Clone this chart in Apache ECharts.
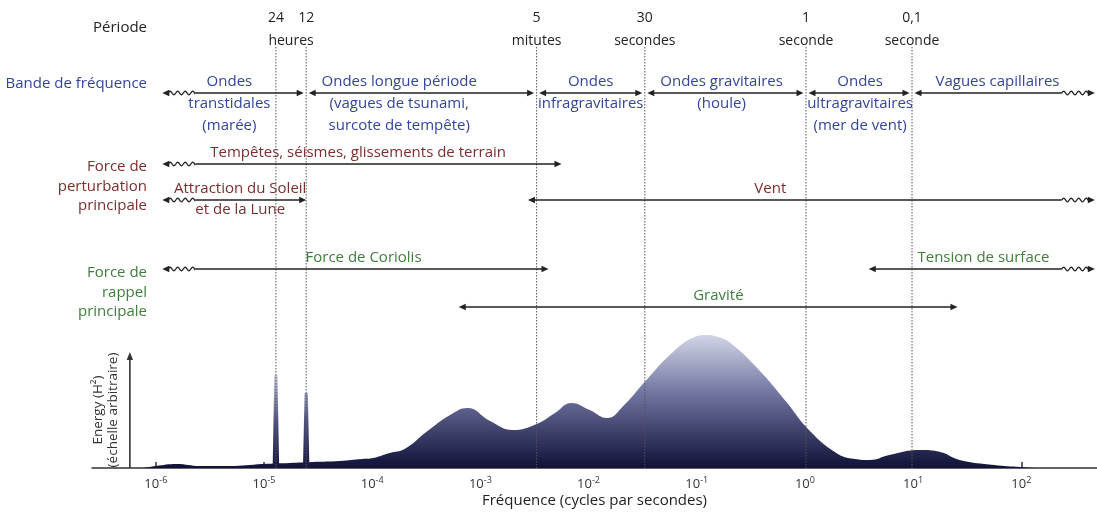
<!DOCTYPE html>
<html><head><meta charset="utf-8">
<script src="https://cdn.jsdelivr.net/npm/echarts@6/dist/echarts.min.js"></script>
<style>html,body{margin:0;padding:0;background:#fff}#c{width:1097px;height:514px}</style>
</head><body><div id="c"></div>
<script>
// ===== DATA (frequency given as log10 of cycles per second) =====
const decadeTicks = [-6, -5, -4, -3, -2, -1, 0, 1, 2];

// period boundaries : 24 h, 12 h, 5 min, 30 s, 1 s, 0.1 s
const periodBoundaries = [-4.89, -4.61, -2.48, -1.48, 0.01, 0.99];
const periodNumbers = ['24', '12', '5', '30', '1', '0,1'];
const periodUnits = ['heures', 'mitutes', 'secondes', 'seconde', 'seconde'];
const periodUnitAt = [-4.75, -2.48, -1.48, 0.01, 0.99];

// energy spectrum (arbitrary units)
const spectrumFreq = [-6.59, -6.15, -6.00, -5.81, -5.59, -5.32, -5.01, -4.76, -4.55, -4.30, -4.09, -3.99, -3.84, -3.70, -3.50, -3.28, -3.12, -2.91, -2.70, -2.48, -2.31, -2.16, -1.99, -1.83, -1.67, -1.49, -1.22, -1.02, -0.91, -0.80, -0.70, -0.45, -0.17, 0.02, 0.29, 0.46, 0.60, 0.78, 1.06, 1.25, 1.43, 1.75, 1.99, 2.17, 2.70];
const spectrumEnergy = [0, 0, 2, 4, 2, 2, 4, 5, 6, 7, 9, 10, 15, 19, 36, 53, 60, 47, 38, 44, 55, 65, 58, 50, 63, 85, 116, 131, 133, 131, 126, 101, 66, 40, 15, 9, 8, 13, 18, 16, 8, 3, 1, 0, 0];

// diurnal and semi-diurnal tide lines
const tideSpikeFreq = [-4.92, -4.905, -4.875, -4.86, -4.64, -4.625, -4.595, -4.58];
const tideSpikeEnergy = [0, 93, 93, 0, 0, 75, 75, 0];

// frequency bands (null = open ended)
const bandNames = [['Ondes', 'transtidales', '(marée)'], ['Ondes longue période', '(vagues de tsunami,', 'surcote de tempête)'], ['Ondes', 'infragravitaires'], ['Ondes gravitaires', '(houle)'], ['Ondes', 'ultragravitaires', '(mer de vent)'], ['Vagues capillaires']];
const bandFrom = [null, -4.61, -2.48, -1.48, 0.01, 0.99];
const bandTo = [-4.61, -2.48, -1.48, 0.01, 0.99, null];

// main disturbing forces
const disturbNames = [['Tempêtes, séismes, glissements de terrain'], ['Attraction du Soleil', 'et de la Lune'], ['Vent']];
const disturbFrom = [null, null, -2.56];
const disturbTo = [-2.25, -4.61, null];

// main restoring forces
const restoreNames = [['Force de Coriolis'], ['Tension de surface'], ['Gravité']];
const restoreFrom = [null, 0.59, -3.20];
const restoreTo = [-2.37, null, 1.41];

// ===== LAYOUT (positions / styles) =====
const FONT = '"Open Sans", "Noto Sans", sans-serif';
const L = {
  xMin: -6.59, xMax: 2.70, gridLeft: 92,
  openLeft: -5.94, openRight: 2.68,
  energyAxisAt: -6.24, energyAxisTop: 116, energyMax: 140,
  dottedTop: 47, dottedBottom: 468,
  periodNumY: 18, periodUnitY: 41,
  bandRows: [93, 93, 93, 93, 93, 93],
  disturbRows: [164, 200, 200],
  restoreRows: [269, 269, 307],
  bandLabelAt: [-5.32, -3.75, -1.98, -0.77, 0.51, 1.78],
  disturbLabelAt: [-4.13, -5.22, -0.32],
  restoreLabelAt: [-4.08, 1.65, -0.80],
  lineStep: 22, textLift: 11, gapBand: 2.5
};
const C = { band: '#33459b', disturb: '#7a2e2e', restore: '#3f7d3b', ink: '#222' };

// ---- build annotation lists ----
const arrows = [];
const texts = [];
function addGroup(names, from, to, rows, labelAt, color, gap, step) {
  names.forEach((lines, i) => {
    arrows.push({ from: from[i], to: to[i], row: rows[i], gap: gap });
    lines.forEach((t, k) => texts.push({ x: labelAt[i], y: rows[i] - L.textLift + k * step, text: t, color: color, size: 15 }));
  });
}
addGroup(bandNames, bandFrom, bandTo, L.bandRows, L.bandLabelAt, C.band, L.gapBand, L.lineStep);
addGroup(disturbNames, disturbFrom, disturbTo, L.disturbRows, L.disturbLabelAt, C.disturb, 0, 21);
addGroup(restoreNames, restoreFrom, restoreTo, L.restoreRows, L.restoreLabelAt, C.restore, 0, 21);
periodBoundaries.forEach((b, i) => texts.push({ x: b, y: L.periodNumY, text: periodNumbers[i], color: C.ink, size: 14 }));
periodUnits.forEach((u, i) => texts.push({ x: periodUnitAt[i], y: L.periodUnitY, text: u, color: C.ink, size: 14 }));

function wavy(x0, x1, y, amp, period) {
  const pts = [];
  for (let x = x0; x <= x1 + 0.01; x += 0.5) pts.push([x, y - amp * Math.sin((x - x0) / period * 2 * Math.PI)]);
  return pts;
}
function renderArrow(params, api) {
  const a = arrows[params.dataIndex];
  const y = api.coord([0, a.row])[1];
  const xl = api.coord([a.from == null ? L.openLeft : a.from, a.row])[0] + (a.from == null ? 0 : a.gap);
  const xr = api.coord([a.to == null ? L.openRight : a.to, a.row])[0] - (a.to == null ? 0 : a.gap);
  const H = 7, HW = 3.2, W = 33, col = '#222';
  const ch = [];
  let s = xl + H - 1, e = xr - H + 1;
  if (a.from == null) {
    ch.push({ type: 'polyline', shape: { points: wavy(xl + H - 1, xl + W, y, 1.8, 7.5) }, style: { stroke: col, lineWidth: 1.3, fill: null } });
    s = xl + W;
  }
  if (a.to == null) {
    ch.push({ type: 'polyline', shape: { points: wavy(xr - W, xr - H + 1, y, 1.8, 7.5) }, style: { stroke: col, lineWidth: 1.3, fill: null } });
    e = xr - W;
  }
  ch.push({ type: 'line', shape: { x1: s, y1: y, x2: e, y2: y }, style: { stroke: col, lineWidth: 1.7 } });
  ch.push({ type: 'polygon', shape: { points: [[xl, y], [xl + H, y - HW], [xl + H, y + HW]] }, style: { fill: col } });
  ch.push({ type: 'polygon', shape: { points: [[xr, y], [xr - H, y - HW], [xr - H, y + HW]] }, style: { fill: col } });
  return { type: 'group', children: ch };
}
function renderText(params, api) {
  const t = texts[params.dataIndex];
  const p = api.coord([t.x, t.y]);
  return { type: 'text', x: p[0], y: p[1], style: { text: t.text, fill: t.color, font: t.size + 'px ' + FONT, textAlign: 'center', textVerticalAlign: 'middle', align: 'center', verticalAlign: 'middle' } };
}
function renderDotted(params, api) {
  const d = periodBoundaries[params.dataIndex];
  const p1 = api.coord([d, L.dottedTop]), p2 = api.coord([d, L.dottedBottom]);
  return { type: 'line', shape: { x1: p1[0], y1: p1[1], x2: p2[0], y2: p2[1] }, style: { stroke: '#555', lineWidth: 1, lineDash: [1.5, 1.5] } };
}
function renderEnergyAxis(params, api) {
  const p0 = api.coord([L.energyAxisAt, 0]), p1 = api.coord([L.energyAxisAt, L.energyAxisTop]);
  return { type: 'group', children: [
    { type: 'line', shape: { x1: p0[0], y1: p0[1], x2: p1[0], y2: p1[1] + 6 }, style: { stroke: '#333', lineWidth: 1.6 } },
    { type: 'polygon', shape: { points: [[p1[0], p1[1]], [p1[0] - 3.2, p1[1] + 8], [p1[0] + 3.2, p1[1] + 8]] }, style: { fill: '#333' } }
  ] };
}

const chart = echarts.init(document.getElementById('c'), null, { renderer: 'canvas' });
function hdr(text, y, color) {
  return { type: 'text', x: 147, y: y, style: { text: text, fill: color, font: '15px ' + FONT, textAlign: 'right', textVerticalAlign: 'middle', align: 'right', verticalAlign: 'middle' } };
}
function rot(text, x, y) {
  return { type: 'text', x: x, y: y, rotation: Math.PI / 2, style: { text: text, fill: '#333', font: '13.5px ' + FONT, textAlign: 'center', textVerticalAlign: 'middle', align: 'center', verticalAlign: 'middle' } };
}
const option = {
  backgroundColor: '#fff',
  animation: false,
  grid: [
    { left: L.gridLeft, right: 0, top: 328, bottom: 46 },
    { left: L.gridLeft, right: 0, top: 0, bottom: 0 }
  ],
  xAxis: [
    {
      type: 'value', gridIndex: 0, min: L.xMin, max: L.xMax,
      axisLine: { show: true, onZero: false, lineStyle: { color: '#333', width: 1.5 } },
      axisTick: { show: true, inside: true, length: 6, customValues: decadeTicks, lineStyle: { color: '#333', width: 1.5 } },
      axisLabel: {
        customValues: decadeTicks, margin: 8,
        formatter: v => '{b|10}{s|' + v + '}',
        rich: {
          b: { fontSize: 13, fontFamily: FONT, color: '#333', lineHeight: 15, verticalAlign: 'bottom' },
          s: { fontSize: 9, fontFamily: FONT, color: '#333', lineHeight: 10, verticalAlign: 'top' }
        }
      },
      splitLine: { show: false },
      name: 'Fréquence (cycles par secondes)', nameLocation: 'middle', nameGap: 25,
      nameTextStyle: { fontSize: 15, fontFamily: FONT, color: '#222' }
    },
    { type: 'value', gridIndex: 1, min: L.xMin, max: L.xMax, show: false }
  ],
  yAxis: [
    { type: 'value', gridIndex: 0, min: 0, max: L.energyMax, show: false },
    { type: 'value', gridIndex: 1, min: 0, max: 514, inverse: true, show: false }
  ],
  series: [
    {
      type: 'line', xAxisIndex: 0, yAxisIndex: 0, smooth: 0.45, symbol: 'none',
      data: spectrumFreq.map((f, i) => [f, spectrumEnergy[i]]),
      lineStyle: { width: 0 },
      areaStyle: { opacity: 1, color: new echarts.graphic.LinearGradient(0, 0, 0, 1, [
        { offset: 0, color: '#d2d5e6' }, { offset: 0.45, color: '#6e739f' }, { offset: 1, color: '#0f1137' }]) }
    },
    {
      type: 'line', xAxisIndex: 0, yAxisIndex: 0, smooth: false, symbol: 'none',
      data: tideSpikeFreq.map((f, i) => [f, tideSpikeEnergy[i]]),
      lineStyle: { width: 0 },
      areaStyle: { opacity: 1, color: new echarts.graphic.LinearGradient(0, 0, 0, 1, [
        { offset: 0, color: '#c9cce0' }, { offset: 0.5, color: '#4d527f' }, { offset: 1, color: '#15173f' }]) }
    },
    { type: 'custom', xAxisIndex: 0, yAxisIndex: 0, renderItem: renderEnergyAxis, data: [[L.energyAxisAt, 0]], z: 5 },
    { type: 'custom', xAxisIndex: 1, yAxisIndex: 1, renderItem: renderDotted, data: periodBoundaries.map(b => [b, L.dottedTop]), z: 4 },
    { type: 'custom', xAxisIndex: 1, yAxisIndex: 1, renderItem: renderArrow, data: arrows.map(a => [a.from == null ? L.openLeft : a.from, a.row]), z: 6 },
    { type: 'custom', xAxisIndex: 1, yAxisIndex: 1, renderItem: renderText, data: texts.map(t => [t.x, t.y]), z: 7 }
  ],
  graphic: [
    hdr('Période', 28, C.ink),
    hdr('Bande de fréquence', 84, C.band),
    hdr('Force de', 167, C.disturb), hdr('perturbation', 187, C.disturb), hdr('principale', 206, C.disturb),
    hdr('Force de', 273, C.restore), hdr('rappel', 293, C.restore), hdr('principale', 312, C.restore),
    rot('Energy (H²)', 98, 410), rot('(échelle arbitraire)', 113, 410)
  ]
};
chart.setOption(option);
</script>
</body></html>
